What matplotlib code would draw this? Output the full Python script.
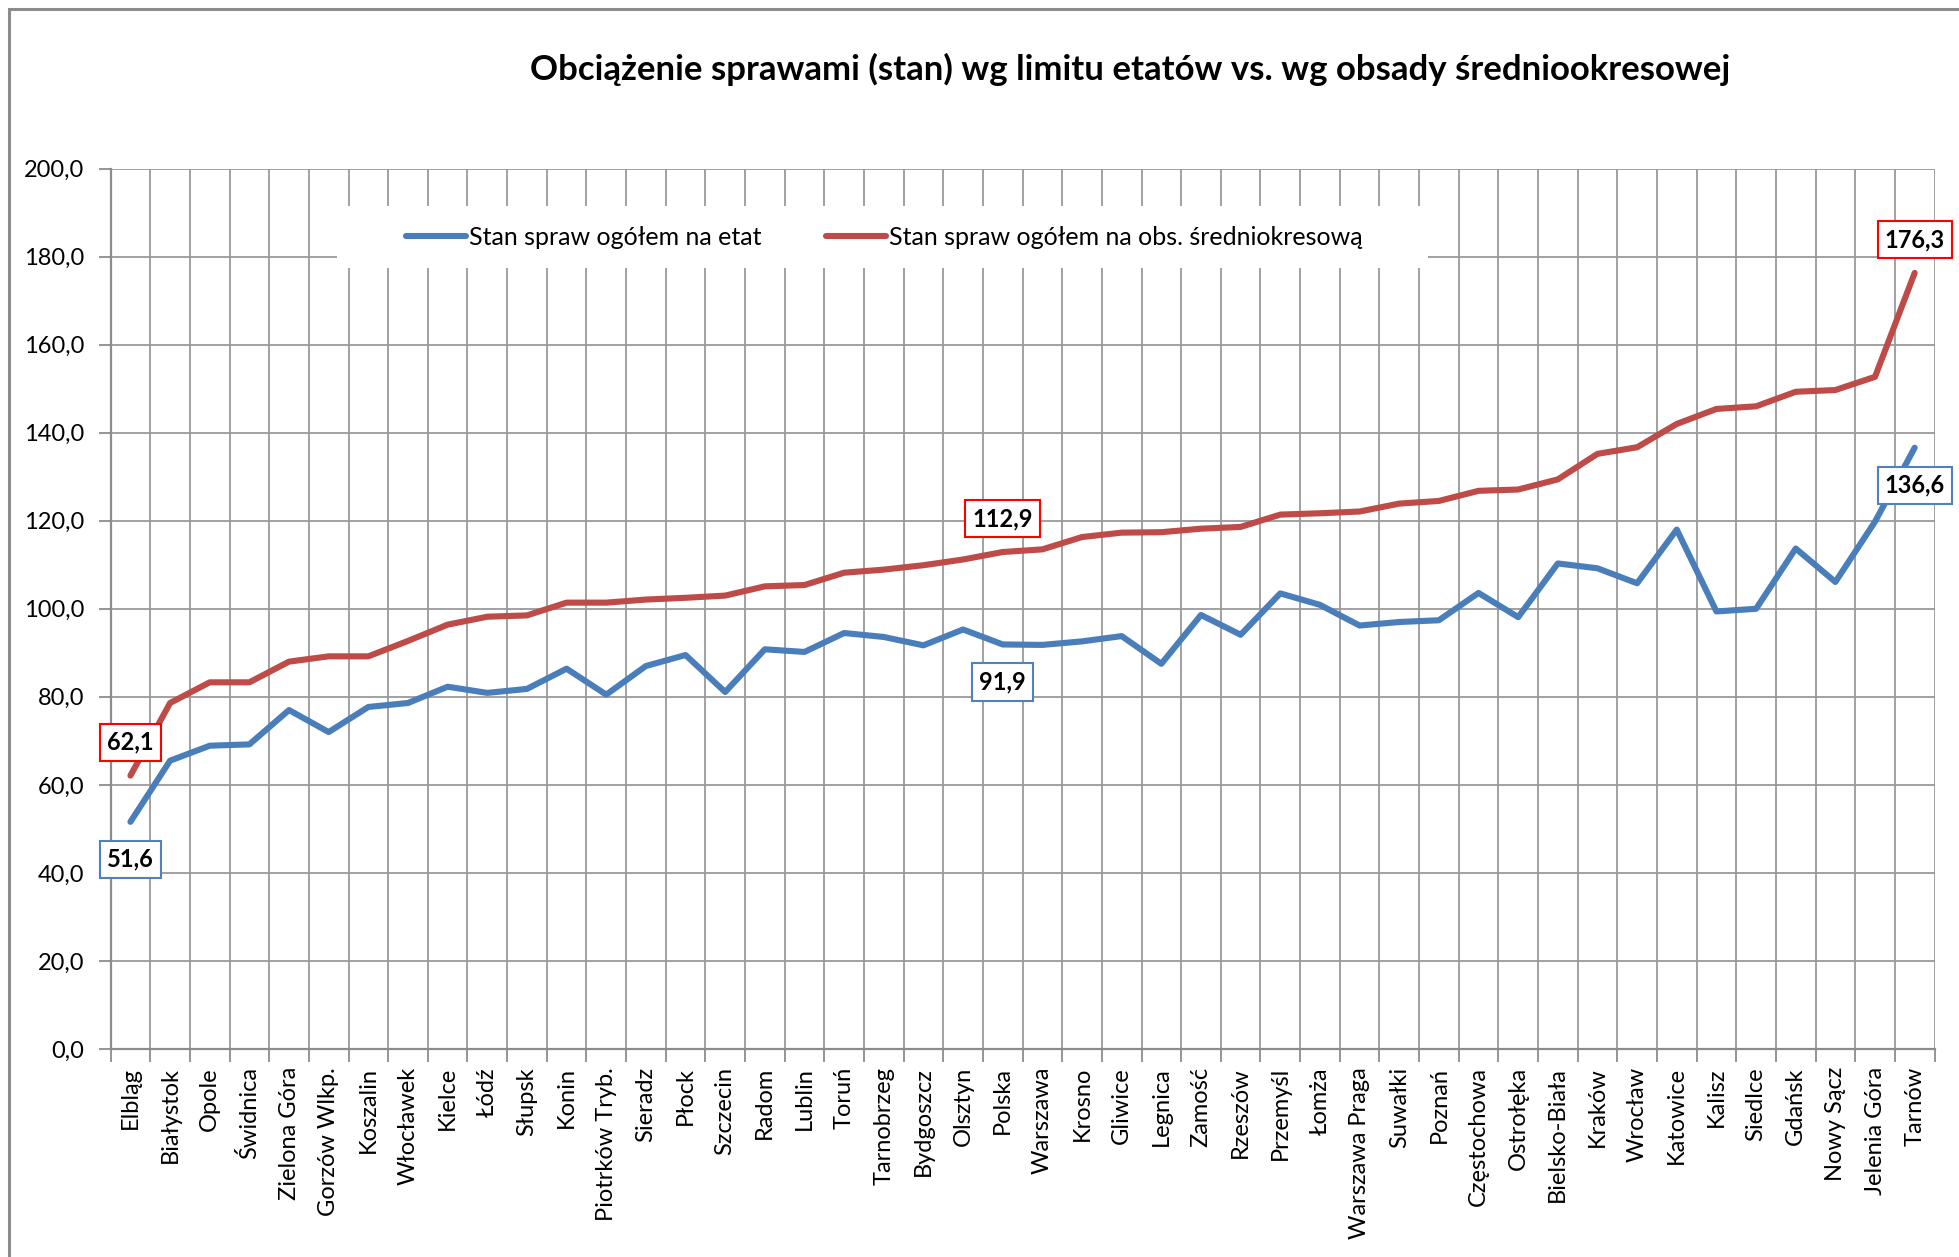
import matplotlib.pyplot as plt
from matplotlib.patches import Rectangle
from matplotlib.ticker import FixedLocator, FuncFormatter

plt.rcParams['font.family'] = ['Lato', 'DejaVu Sans']

miasta = ['Elbląg', 'Białystok', 'Opole', 'Świdnica', 'Zielona Góra', 'Gorzów Wlkp.',
          'Koszalin', 'Włocławek', 'Kielce', 'Łódź', 'Słupsk', 'Konin', 'Piotrków Tryb.',
          'Sieradz', 'Płock', 'Szczecin', 'Radom', 'Lublin', 'Toruń', 'Tarnobrzeg',
          'Bydgoszcz', 'Olsztyn', 'Polska', 'Warszawa', 'Krosno', 'Gliwice', 'Legnica',
          'Zamość', 'Rzeszów', 'Przemyśl', 'Łomża', 'Warszawa Praga', 'Suwałki', 'Poznań',
          'Częstochowa', 'Ostrołęka', 'Bielsko-Biała', 'Kraków', 'Wrocław', 'Katowice',
          'Kalisz', 'Siedlce', 'Gdańsk', 'Nowy Sącz', 'Jelenia Góra', 'Tarnów']

na_etat = [51.6, 65.5, 68.9, 69.2, 77.0, 72.0, 77.7, 78.6, 82.3, 80.9, 81.8, 86.4, 80.5,
           87.0, 89.5, 81.1, 90.8, 90.2, 94.5, 93.6, 91.7, 95.3, 91.9, 91.8, 92.6, 93.8,
           87.5, 98.6, 94.1, 103.5, 100.9, 96.2, 97.0, 97.4, 103.6, 98.1, 110.3, 109.2,
           105.8, 118.0, 99.4, 100.0, 113.7, 106.1, 119.8, 136.6]

na_obsade = [62.1, 78.6, 83.3, 83.3, 88.0, 89.2, 89.2, 92.7, 96.4, 98.2, 98.5, 101.4, 101.4,
             102.1, 102.5, 103.0, 105.1, 105.4, 108.2, 108.9, 109.9, 111.2, 112.9, 113.5,
             116.3, 117.3, 117.4, 118.2, 118.6, 121.4, 121.7, 122.1, 123.9, 124.5, 126.8,
             127.1, 129.4, 135.2, 136.7, 142.0, 145.4, 146.0, 149.3, 149.7, 152.7, 176.3]

tytul = 'Obciążenie sprawami (stan) wg limitu etatów vs. wg obsady średniookresowej'
nazwa_etat = 'Stan spraw ogółem na etat'
nazwa_obsada = 'Stan spraw ogółem na obs. średniokresową'

# indeksy punktow z etykietami
etykiety = [0, 22, 45]

W, H = 1959, 1257
fig = plt.figure(figsize=(W / 100, H / 100), dpi=100)
ax = fig.add_axes([110.6 / W, 1 - 1049 / H, (1934.5 - 110.6) / W, (1049 - 168.6) / H])

# ramka wykresu
fig.patches.append(Rectangle((9 / W, -0.1), 1.1, 1 - 9 / H + 0.1, transform=fig.transFigure,
                             fill=False, edgecolor='#8c8c8c', linewidth=2.2))

x = list(range(len(miasta)))
niebieski = '#4a7ebb'
czerwony = '#be4b48'
ax.plot(x, na_etat, color=niebieski, linewidth=4.4, label=nazwa_etat, zorder=3,
        solid_joinstyle='round', solid_capstyle='round')
ax.plot(x, na_obsade, color=czerwony, linewidth=4.4, label=nazwa_obsada, zorder=3,
        solid_joinstyle='round', solid_capstyle='round')

ax.set_xlim(-0.5, len(miasta) - 0.5)
ax.set_ylim(0, 200)
ax.xaxis.set_major_locator(FixedLocator([i - 0.5 for i in range(len(miasta) + 1)]))
ax.xaxis.set_major_formatter(FuncFormatter(lambda v, p: ''))
ax.xaxis.set_minor_locator(FixedLocator(x))
ax.set_xticklabels(miasta, minor=True, rotation=90, fontsize=17)
ax.tick_params(axis='x', which='minor', length=0, pad=13)
ax.tick_params(axis='x', which='major', length=9, width=1.3, color='#8c8c8c')
ax.set_yticks(range(0, 201, 20))
ax.yaxis.set_major_formatter(FuncFormatter(lambda v, p: f'{v:.1f}'.replace('.', ',')))
ax.tick_params(axis='y', length=9, width=1.3, color='#8c8c8c', labelsize=17, pad=10)
ax.grid(True, which='major', color='#9a9a9a', linewidth=1.3)
ax.set_axisbelow(True)
for s in ['top', 'right']:
    ax.spines[s].set_visible(False)
for s in ['left', 'bottom']:
    ax.spines[s].set_color('#8c8c8c')
    ax.spines[s].set_linewidth(1.6)

fig.text(1130 / W, 1 - 69 / H, tytul, ha='center', va='center', fontsize=25, fontweight='bold')

# biale tlo legendy
ax.add_patch(Rectangle((0.1241, 0.8871), 0.5982, 0.0704, transform=ax.transAxes,
                       facecolor='white', edgecolor='none', zorder=2))
leg = ax.legend(loc='center', bbox_to_anchor=(0.4243, 0.922), ncol=2, fontsize=18,
                frameon=False, handlelength=2.4, handletextpad=0.1, columnspacing=2.6)

for seria, kolor_ramki, przesun in [(na_obsade, '#ff0000', 24), (na_etat, '#4f81bd', -27)]:
    for i in etykiety:
        ax.annotate(f'{seria[i]:.1f}'.replace('.', ','), (i, seria[i]),
                    xytext=(0, przesun), textcoords='offset points', ha='center', va='center',
                    fontsize=17, fontweight='bold', zorder=5,
                    bbox=dict(boxstyle='square,pad=0.3', facecolor='white',
                              edgecolor=kolor_ramki, linewidth=1.5))

fig.savefig('out.png', dpi=100)
